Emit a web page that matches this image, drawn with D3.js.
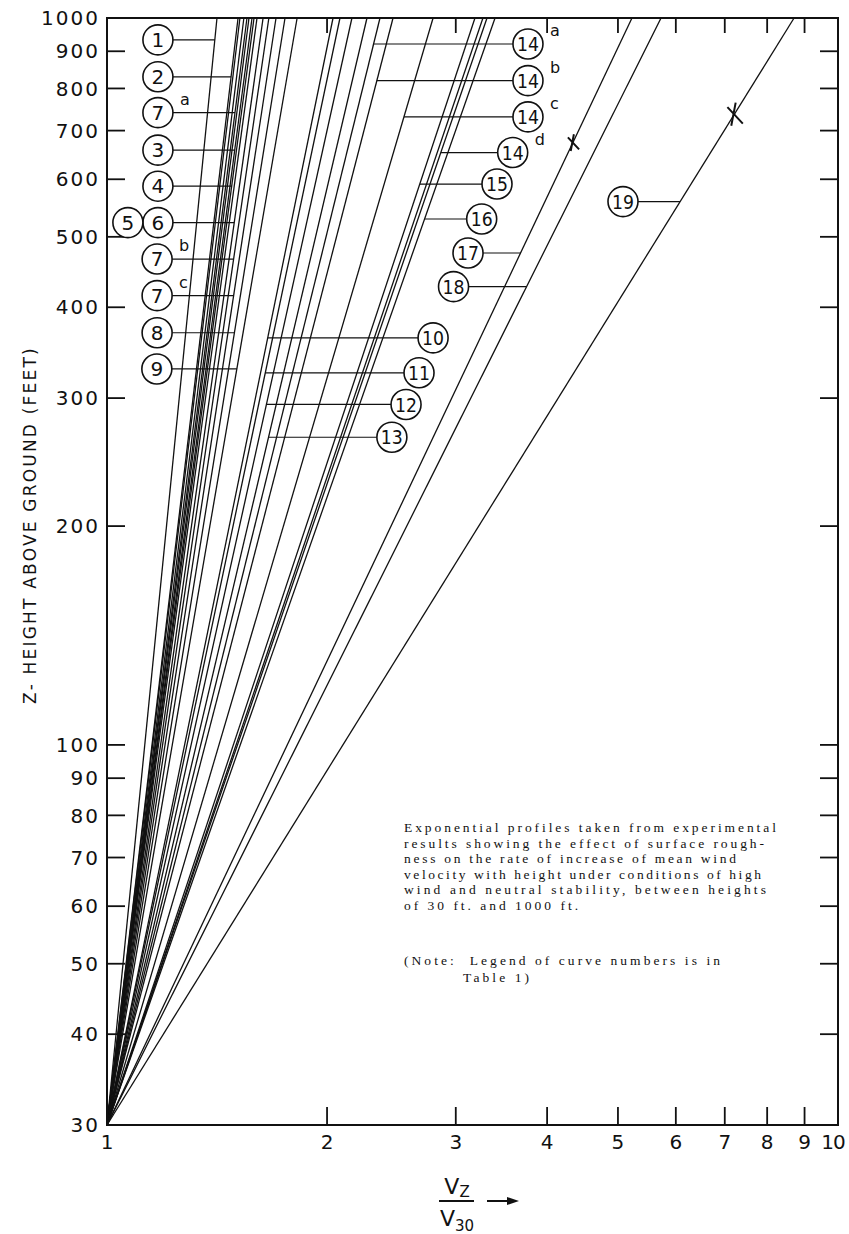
<!DOCTYPE html>
<html><head><meta charset="utf-8">
<script src="https://cdn.jsdelivr.net/npm/d3@7"></script>
<style>body{margin:0;background:#fff}</style>
</head><body>
<svg id="c" width="849" height="1234"></svg>
<script>
// V1000/V30 ratio at the top of each profile line
const lineTops = [1.414, 1.511, 1.520, 1.539, 1.554, 1.564, 1.579, 1.589, 1.604, 1.635,
  1.665, 1.703, 1.752, 1.820, 2.038, 2.083, 2.163, 2.268, 2.363, 2.462, 2.793,
  3.187, 3.268, 3.310, 3.395, 5.226, 5.727, 8.708];
const yTicks = [30,40,50,60,70,80,90,100,200,300,400,500,600,700,800,900,1000];
const xTicks = [1,2,3,4,5,6,7,8,9,10];
// curve labels
const labelNames = ["1","2","7","3","4","6","7","7","8","9","10","11","12","13","14","14","14","14","15","16","17","18","19","5"];
const labelSup   = ["","","a","","","","b","c","","","","","","","a","b","c","d","","","","","",""];
const labelX     = [1.174,1.174,1.174,1.174,1.174,1.174,1.171,1.171,1.171,1.170,2.793,2.672,2.565,2.453,3.766,3.766,3.766,3.589,3.416,3.255,3.118,2.979,5.08,1.068];
const labelZ     = [933,830,741,658,587,523,466,415,369,329,363,325,294,265,921,820,731,653,591,529,475,427,559,523];
const labelCurve = [1.414,1.511,1.554,1.579,1.589,1.635,1.665,1.703,1.752,1.820,2.038,2.083,2.163,2.268,2.363,2.462,2.793,3.310,3.187,3.395,5.226,5.727,8.708,null];
const markerCurve = [5.226, 8.708];
const markerZ = [673, 736];
const noteLines = ["Exponential profiles taken from experimental",
  "results showing the effect of surface rough-",
  "ness on the rate of increase of mean wind",
  "velocity with height under conditions of high",
  "wind and neutral stability, between heights",
  "of 30 ft. and 1000 ft."];
const noteWidths = [372, 360, 332, 357, 362, 174];
const note2Lines = ["(Note:  Legend of curve numbers is in", "Table 1)"];
const note2Widths = [316, 66];

const svg = d3.select("#c");
const L = 107, R = 838, T = 18, B = 1125;
const x = d3.scaleLog().domain([1,10]).range([L,R]);
const y = d3.scaleLog().domain([30,1000]).range([B,T]);
const frac = z => Math.log(z/30)/Math.log(1000/30);
const curveAt = (top, z) => Math.pow(top, frac(z));
const ink = "#111";

// profile lines
const line = d3.line().x(d => x(d[0])).y(d => y(d[1]));
svg.append("g").selectAll("path").data(lineTops).join("path")
  .attr("d", t => line([[1,30],[t,1000]]))
  .attr("fill","none").attr("stroke",ink).attr("stroke-width",1.3);

// frame
svg.append("rect").attr("x",L).attr("y",T).attr("width",R-L).attr("height",B-T)
  .attr("fill","none").attr("stroke",ink).attr("stroke-width",2);

// ticks
const g = svg.append("g").attr("stroke",ink).attr("stroke-width",1.8);
yTicks.filter(v => v>30 && v<1000).forEach(v => {
  g.append("line").attr("x1",L).attr("x2",L+18).attr("y1",y(v)).attr("y2",y(v));
  g.append("line").attr("x1",R-18).attr("x2",R).attr("y1",y(v)).attr("y2",y(v));
});
xTicks.filter(v => v>1 && v<10).forEach(v => {
  g.append("line").attr("x1",x(v)).attr("x2",x(v)).attr("y1",B).attr("y2",B-18);
  g.append("line").attr("x1",x(v)).attr("x2",x(v)).attr("y1",T).attr("y2",T+15);
});

const font = "DejaVu Sans, sans-serif";
// y tick labels
svg.append("g").selectAll("text").data(yTicks).join("text")
  .attr("x",100).attr("y",v => y(v)).attr("dy","0.36em")
  .attr("text-anchor","end").attr("font-family",font).attr("font-size",20)
  .attr("letter-spacing",2).attr("fill",ink).text(v => v);
// x tick labels
svg.append("g").selectAll("text").data(xTicks).join("text")
  .attr("x",v => v === 10 ? x(v) - 5 : x(v)).attr("y",B+17).attr("dy","0.36em")
  .attr("text-anchor","middle").attr("font-family",font).attr("font-size",20)
  .attr("letter-spacing",v => v === 10 ? -1 : 0)
  .attr("fill",ink).text(v => v);

// y axis title
svg.append("text").attr("transform","translate(30,525) rotate(-90)")
  .attr("text-anchor","middle").attr("dy","0.36em").attr("font-family",font)
  .attr("font-size",17).attr("letter-spacing",2.2).attr("fill",ink)
  .text("Z- HEIGHT ABOVE GROUND (FEET)");

// x axis title (fraction)
const xt = svg.append("g").attr("font-family",font).attr("fill",ink);
const vz = xt.append("text").attr("x",457).attr("y",1194).attr("text-anchor","middle").attr("font-size",22);
vz.append("tspan").text("V");
vz.append("tspan").attr("font-size",15).attr("dy",3).text("Z");
const v30 = xt.append("text").attr("x",457).attr("y",1226).attr("text-anchor","middle").attr("font-size",22);
v30.append("tspan").text("V");
v30.append("tspan").attr("font-size",15).attr("dy",5).text("30");
svg.append("line").attr("x1",439).attr("x2",474).attr("y1",1201).attr("y2",1201).attr("stroke",ink).attr("stroke-width",2);
svg.append("line").attr("x1",487).attr("x2",510).attr("y1",1201).attr("y2",1201).attr("stroke",ink).attr("stroke-width",2);
svg.append("path").attr("d","M507,1197 L519,1201 L507,1205 Z").attr("fill",ink);

// curve labels
const r = 15;
const lab = svg.append("g");
labelNames.forEach((name, i) => {
  const cx = x(labelX[i]), cy = y(labelZ[i]);
  if (labelCurve[i] !== null) {
    const px = x(curveAt(labelCurve[i], labelZ[i]));
    const sx = px > cx ? cx + r : cx - r;
    lab.append("line").attr("x1",sx).attr("x2",px).attr("y1",cy).attr("y2",cy)
      .attr("stroke",ink).attr("stroke-width",1.2);
  }
  lab.append("circle").attr("cx",cx).attr("cy",cy).attr("r",r)
    .attr("fill","#fff").attr("stroke",ink).attr("stroke-width",1.6);
  const t = lab.append("text").attr("x",cx).attr("y",cy).attr("dy","0.36em")
    .attr("text-anchor","middle").attr("font-family",font).attr("font-size",20)
    .attr("fill",ink).text(name);
  if (name.length > 1) t.attr("textLength",22).attr("lengthAdjust","spacingAndGlyphs");
  if (labelSup[i]) lab.append("text").attr("x",cx+22).attr("y",cy-8)
    .attr("font-family",font).attr("font-size",16).attr("fill",ink).text(labelSup[i]);
});

// X markers
markerCurve.forEach((c, i) => {
  const px = x(curveAt(c, markerZ[i])), py = y(markerZ[i]);
  const s = i === 0 ? 8 : 11;
  svg.append("path").attr("d",`M${px-s*0.6},${py-s*0.7} L${px+s*0.8},${py+s*0.8} M${px+s*0.15},${py-s*1.1} L${px-s*0.25},${py+s*1.0}`)
    .attr("stroke",ink).attr("stroke-width",2).attr("fill","none");
});

// note text
const serif = "Liberation Serif, serif";
noteLines.forEach((s, i) => {
  svg.append("text").attr("x",404).attr("y",832 + i*15.6).attr("font-family",serif)
    .attr("font-size",13.5).attr("fill",ink).attr("textLength",noteWidths[i])
    .attr("lengthAdjust","spacing").text(s);
});
note2Lines.forEach((s, i) => {
  svg.append("text").attr("x",i ? 463 : 404).attr("y",965 + i*17).attr("font-family",serif)
    .attr("font-size",13.5).attr("fill",ink).attr("textLength",note2Widths[i])
    .attr("lengthAdjust","spacing").attr("xml:space","preserve").text(s);
});
</script>
</body></html>
